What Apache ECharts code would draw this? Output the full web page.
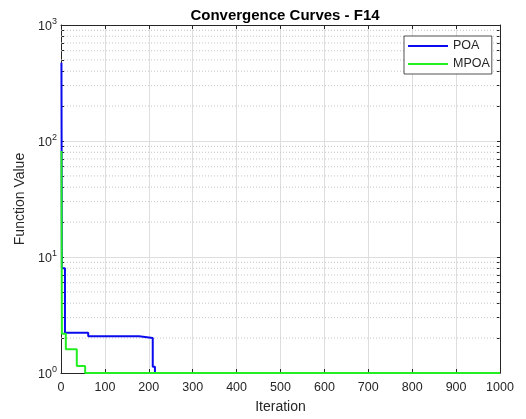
<!DOCTYPE html>
<html>
<head>
<meta charset="utf-8">
<script src="https://cdn.jsdelivr.net/npm/echarts@6/dist/echarts.min.js"></script>
<style>
  html, body { margin: 0; padding: 0; background: #fff; }
  #chart { width: 526px; height: 419px; }
</style>
</head>
<body>
<div id="chart"></div>
<script>
// Convergence history, stored as the iterations where the best value changes
const poaIter   = [1, 2, 9, 62, 178, 209, 214, 1000];
const poaValue  = [473, 8.0, 2.22, 2.07, 2.0, 1.13, 0.998, 0.998];
const mpoaIter  = [1, 2, 11, 36, 55, 1000];
const mpoaValue = [82, 2.18, 1.6, 1.15, 0.998, 0.998];

// Axis ticks
const xTicks = [0, 100, 200, 300, 400, 500, 600, 700, 800, 900, 1000];
const yExponents = [0, 1, 2, 3];
const yMinor = [2, 3, 4, 5, 6, 7, 8, 9, 20, 30, 40, 50, 60, 70, 80, 90,
                200, 300, 400, 500, 600, 700, 800, 900];

const FONT = "'Liberation Sans', Arial, Helvetica, sans-serif";
const INK = '#262626';
const allYTicks = yExponents.map(e => Math.pow(10, e)).concat(yMinor).sort((a, b) => a - b);

const chart = echarts.init(document.getElementById('chart'), null, { renderer: 'canvas' });

const pairs = (xs, ys) => xs.map((x, i) => [x, ys[i]]);

const logAxisBase = { type: 'log', logBase: 10, min: 1, max: 1000, gridIndex: 0 };

// dotted minor grid lines, one per minor decade value, spanning the x range
const minorGridSeries = yMinor.map(v => ({
  type: 'line',
  data: [[xTicks[0], v], [xTicks[xTicks.length - 1], v]],
  symbol: 'none',
  silent: true,
  z: 1,
  lineStyle: { color: '#c4c4c4', width: 1, type: [1, 2] },
  xAxisIndex: 0, yAxisIndex: 0
}));

const option = {
  animation: false,
  backgroundColor: '#ffffff',
  textStyle: { fontFamily: FONT },
  title: {
    text: 'Convergence Curves - F14',
    left: 280, top: 3, textAlign: 'center',
    textStyle: { fontFamily: FONT, fontSize: 15, fontWeight: 'bold', color: '#000' }
  },
  grid: { left: 61, right: 26, top: 25, bottom: 46, containLabel: false },
  legend: {
    data: [{ name: 'POA', icon: 'rect' }, { name: 'MPOA', icon: 'rect' }],
    orient: 'vertical',
    left: 404, top: 36,
    itemWidth: 40, itemHeight: 2, itemGap: 4,
    padding: [3, 2, 3, 4],
    backgroundColor: '#fff',
    borderColor: INK, borderWidth: 0.8, borderRadius: 0,
    textStyle: { fontFamily: FONT, fontSize: 12.5, color: INK, lineHeight: 14 }
  },
  xAxis: [
    {
      type: 'value', min: 0, max: 1000, interval: 100, position: 'bottom',
      name: 'Iteration', nameLocation: 'middle', nameGap: 27,
      nameTextStyle: { fontFamily: FONT, fontSize: 14, color: INK },
      axisLine: { show: true, lineStyle: { color: INK, width: 1 } },
      axisTick: { show: true, inside: true, length: 4, lineStyle: { color: INK } },
      axisLabel: { fontFamily: FONT, fontSize: 12.5, color: INK, margin: 8,
                   customValues: xTicks, formatter: v => String(v) },
      splitLine: { show: true, lineStyle: { color: '#dedede', width: 1 } }
    },
    {
      type: 'value', min: 0, max: 1000, interval: 100, position: 'top',
      axisLine: { show: true, lineStyle: { color: INK, width: 1 } },
      axisTick: { show: true, inside: true, length: 4, lineStyle: { color: INK } },
      axisLabel: { show: false },
      splitLine: { show: false }
    }
  ],
  yAxis: [
    Object.assign({}, logAxisBase, {
      position: 'left',
      name: 'Function Value', nameLocation: 'middle', nameGap: 34,
      nameTextStyle: { fontFamily: FONT, fontSize: 14, color: INK },
      axisLine: { show: true, lineStyle: { color: INK, width: 1 } },
      axisTick: { show: false },
      axisLabel: {
        margin: 4, color: INK,
        formatter: v => '{b|10}{s|' + Math.round(Math.log10(v)) + '}',
        rich: {
          b: { fontFamily: FONT, fontSize: 12.5, color: INK, verticalAlign: 'bottom' },
          s: { fontFamily: FONT, fontSize: 9, color: INK, verticalAlign: 'bottom', padding: [0, 0, 7, 0] }
        }
      },
      splitLine: { show: true, lineStyle: { color: '#dedede', width: 1 } }
    }),
    Object.assign({}, logAxisBase, {
      position: 'left',
      axisLine: { show: false },
      axisTick: { show: true, inside: true, length: 3, customValues: allYTicks,
                  lineStyle: { color: INK } },
      axisLabel: { show: false },
      splitLine: { show: false }
    }),
    Object.assign({}, logAxisBase, {
      position: 'right',
      axisLine: { show: true, lineStyle: { color: INK, width: 1 } },
      axisTick: { show: true, inside: true, length: 3, customValues: allYTicks,
                  lineStyle: { color: INK } },
      axisLabel: { show: false },
      splitLine: { show: false }
    })
  ],
  series: minorGridSeries.concat([
    {
      name: 'POA', type: 'line', step: 'end',
      data: pairs(poaIter, poaValue),
      symbol: 'none', clip: false, z: 3,
      color: '#0a0aee',
      lineStyle: { color: '#0a0aee', width: 2 },
      xAxisIndex: 0, yAxisIndex: 0
    },
    {
      name: 'MPOA', type: 'line', step: 'end',
      data: pairs(mpoaIter, mpoaValue),
      symbol: 'none', clip: false, z: 4,
      color: '#22ee22',
      lineStyle: { color: '#22ee22', width: 2 },
      xAxisIndex: 0, yAxisIndex: 0
    }
  ])
};

chart.setOption(option);
</script>
</body>
</html>
